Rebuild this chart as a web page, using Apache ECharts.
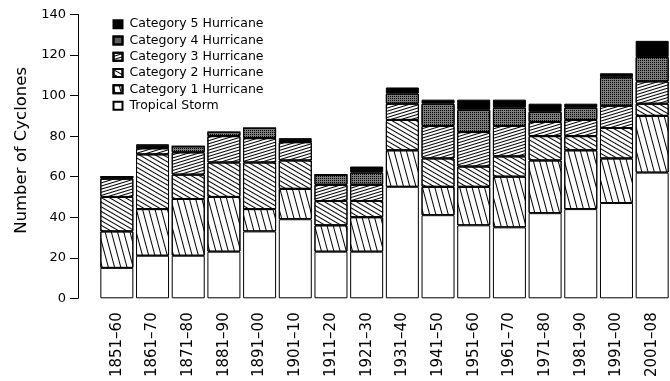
<!DOCTYPE html>
<html>
<head>
<meta charset="utf-8">
<script src="https://cdn.jsdelivr.net/npm/echarts@6/dist/echarts.min.js"></script>
<style>
  html, body { margin: 0; padding: 0; background: #fff; }
  #chart { width: 670px; height: 381px; }
</style>
</head>
<body>
<div id="chart"></div>
<script>
// Atlantic tropical cyclones per decade, split by storm intensity
const decades = ['1851–60', '1861–70', '1871–80', '1881–90', '1891–00', '1901–10',
  '1911–20', '1921–30', '1931–40', '1941–50', '1951–60', '1961–70',
  '1971–80', '1981–90', '1991–00', '2001–08'];
const tropicalStorm = [15, 21, 21, 23, 33, 39, 23, 23, 55, 41, 36, 35, 42, 44, 47, 62];
const category1 = [18, 23, 28, 27, 11, 15, 13, 17, 18, 14, 19, 25, 26, 29, 22, 28];
const category2 = [17, 27, 12, 17, 23, 14, 12, 8, 15, 14, 10, 10, 12, 7, 15, 6];
const category3 = [9, 3, 11, 13, 12, 9, 8, 8, 8, 16, 17, 15, 7, 8, 11, 11];
const category4 = [1, 1, 3, 2, 5, 1, 5, 6, 5, 11, 11, 9, 5, 6, 14, 12];
const category5 = [0, 1, 0, 0, 0, 1, 0, 3, 3, 2, 5, 4, 4, 2, 2, 8];
const yTicks = { min: 0, max: 140, step: 20 };

const FONT = 'DejaVu Sans';

// hatch helper: parallel black lines of given gap, rotated
function hatch(gap, angleDeg) {
  return {
    symbol: 'rect',
    symbolSize: 1,
    color: '#000',
    dashArrayX: [1, 0],
    dashArrayY: [1, gap],
    rotation: angleDeg * Math.PI / 180
  };
}

const styles = [
  { name: 'Tropical Storm', data: tropicalStorm, color: '#fff', decal: null },
  { name: 'Category 1 Hurricane', data: category1, color: '#fff', decal: hatch(5, 75) },
  { name: 'Category 2 Hurricane', data: category2, color: '#fff', decal: hatch(3, 30) },
  { name: 'Category 3 Hurricane', data: category3, color: '#fff', decal: hatch(2, -17) },
  { name: 'Category 4 Hurricane', data: category4, color: '#7c7c7c',
    decal: { symbol: 'rect', symbolSize: 1, color: '#000', dashArrayX: [1, 1], dashArrayY: [1, 1], rotation: 0 } },
  { name: 'Category 5 Hurricane', data: category5, color: '#000', decal: null }
];

const series = styles.map(s => {
  const itemStyle = { color: s.color, borderColor: '#000', borderWidth: 1 };
  if (s.decal) itemStyle.decal = s.decal;
  return {
    name: s.name,
    type: 'bar',
    stack: 'total',
    barWidth: 33,
    data: s.data,
    itemStyle: itemStyle,
    emphasis: { disabled: true },
    animation: false
  };
});

const chart = echarts.init(document.getElementById('chart'));
chart.setOption({
  animation: false,
  backgroundColor: '#fff',
  grid: { left: 99, top: 14.5, width: 574.4, height: 283.8, containLabel: false },
  legend: {
    orient: 'vertical',
    left: 112.5,
    top: 16,
    padding: 0,
    icon: 'rect',
    itemWidth: 9,
    itemHeight: 8,
    itemGap: 0,
    selectedMode: false,
    data: styles.map(s => s.name).reverse(),
    textStyle: { fontFamily: FONT, fontSize: 12.5, color: '#000', lineHeight: 16.3, padding: [0, 0, 0, 2] }
  },
  xAxis: {
    type: 'category',
    data: decades,
    axisLine: { show: false },
    axisTick: { show: false },
    axisLabel: { rotate: 90, margin: 14, fontFamily: FONT, fontSize: 15, color: '#000', interval: 0 }
  },
  yAxis: {
    type: 'value',
    min: yTicks.min,
    max: yTicks.max,
    interval: yTicks.step,
    offset: 21,
    name: 'Number of Cyclones',
    nameLocation: 'middle',
    nameGap: 46,
    nameTextStyle: { fontFamily: FONT, fontSize: 16.5, color: '#000', padding: [0, 0, 0, 12] },
    axisLine: { show: true, lineStyle: { color: '#000', width: 1 } },
    axisTick: { show: true, length: 8, lineStyle: { color: '#000' } },
    axisLabel: { margin: 12, fontFamily: FONT, fontSize: 13, color: '#000' },
    splitLine: { show: false }
  },
  series: series
});
</script>
</body>
</html>
